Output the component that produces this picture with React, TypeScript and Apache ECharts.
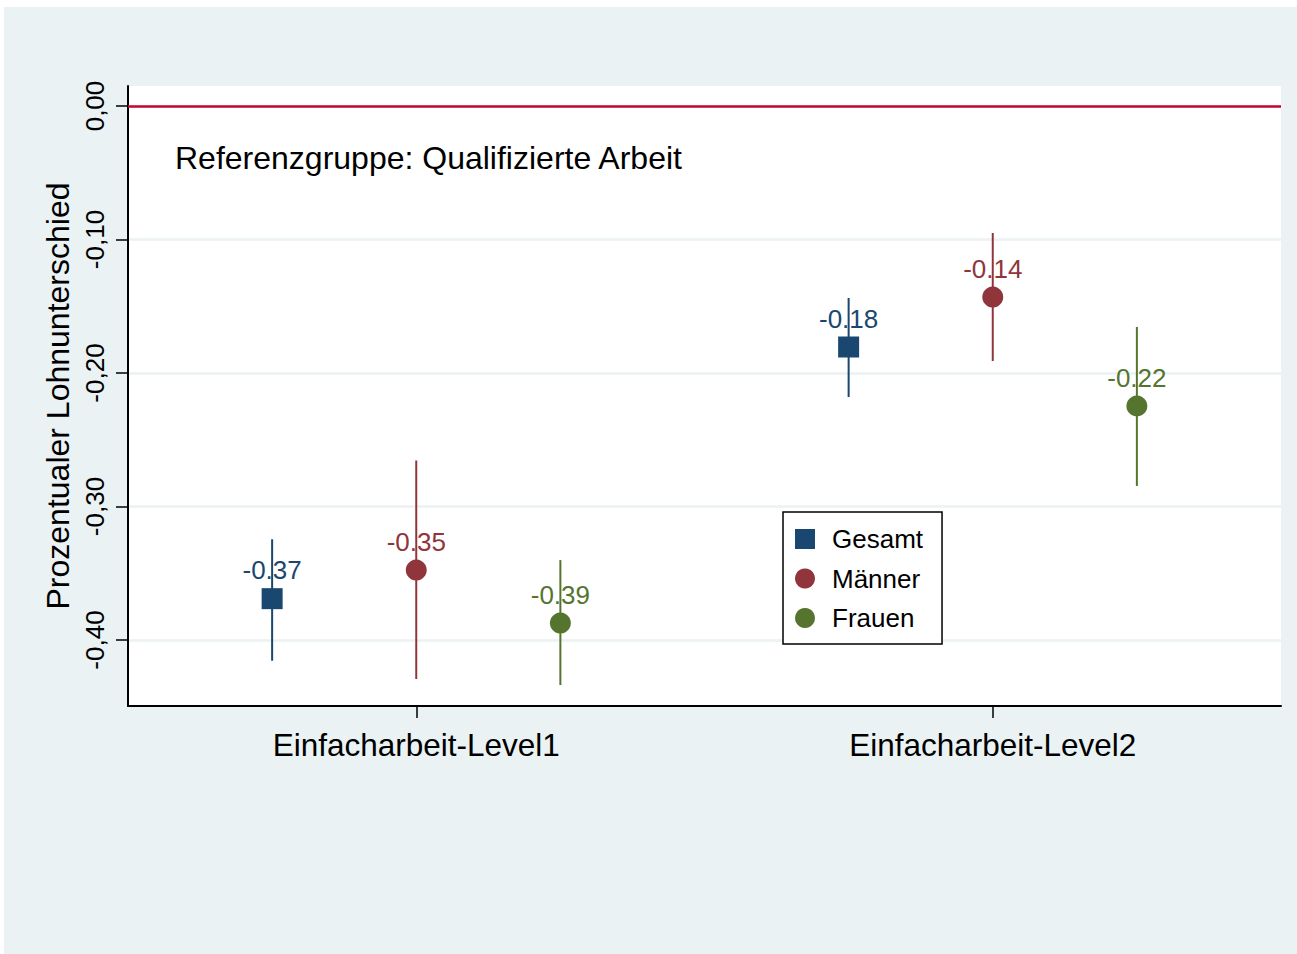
import React, { useEffect, useRef } from "react";
import * as echarts from "echarts";

const categories = ["Einfacharbeit-Level1", "Einfacharbeit-Level2"];
const seriesNames = ["Gesamt", "Männer", "Frauen"];
const gesamt = [-0.369, -0.1805];
const gesamtLo = [-0.4155, -0.218];
const gesamtHi = [-0.3245, -0.1438];
const maenner = [-0.3476, -0.1431];
const maennerLo = [-0.4292, -0.191];
const maennerHi = [-0.2655, -0.0951];
const frauen = [-0.3873, -0.2247];
const frauenLo = [-0.4337, -0.2846];
const frauenHi = [-0.3401, -0.1655];
const yTicks = [-0.4, -0.3, -0.2, -0.1, 0];

const colors = ["#1a476f", "#90353b", "#55752f"];
const symbols = ["rect", "circle", "circle"];
const offsets = [-0.25, 0, 0.25];
const FONT = "Liberation Sans, Arial, Helvetica, sans-serif";

export default function App() {
  const ref = useRef<HTMLDivElement>(null);
  useEffect(() => {
    document.body.style.margin = "0";
    const chart = echarts.init(ref.current!, null, { renderer: "svg" });
    const groups = [
      { v: gesamt, lo: gesamtLo, hi: gesamtHi },
      { v: maenner, lo: maennerLo, hi: maennerHi },
      { v: frauen, lo: frauenLo, hi: frauenHi },
    ];
    const series: any[] = [];
    groups.forEach((g, k) => {
      series.push({
        type: "custom",
        name: seriesNames[k] + "_ci",
        z: 2,
        silent: true,
        data: g.v.map((_, i) => [i + 1 + offsets[k], g.lo[i], g.hi[i]]),
        renderItem: (params: any, api: any) => {
          const p1 = api.coord([api.value(0), api.value(1)]);
          const p2 = api.coord([api.value(0), api.value(2)]);
          return {
            type: "line",
            shape: { x1: p1[0], y1: p1[1], x2: p2[0], y2: p2[1] },
            style: { stroke: colors[k], lineWidth: 2 },
          };
        },
      });
    });
    groups.forEach((g, k) => {
      series.push({
        type: "scatter",
        name: seriesNames[k],
        z: 3,
        symbol: symbols[k],
        symbolSize: 21,
        itemStyle: { color: colors[k], opacity: 1 },
        data: g.v.map((v, i) => [i + 1 + offsets[k], v]),
        label: {
          show: true,
          position: "top",
          distance: 5,
          color: colors[k],
          fontSize: 26,
          fontFamily: FONT,
          formatter: (p: any) => p.value[1].toFixed(2),
        },
        ...(k === 0
          ? {
              markLine: {
                silent: true,
                symbol: "none",
                label: { show: false },
                lineStyle: { color: "#c10534", width: 2.5, type: "solid", opacity: 1 },
                data: [{ yAxis: 0 }],
              },
            }
          : {}),
      });
    });

    chart.setOption({
      animation: false,
      backgroundColor: "transparent",
      textStyle: { fontFamily: FONT },
      graphic: [
        {
          type: "rect",
          z: -100,
          silent: true,
          shape: { x: 4, y: 7, width: 1293, height: 947 },
          style: { fill: "#eaf2f3" },
        },
        {
          type: "text",
          z: 10,
          x: 175,
          y: 158,
          style: {
            text: "Referenzgruppe: Qualifizierte Arbeit",
            fontSize: 32,
            fontFamily: FONT,
            fill: "#000",
            verticalAlign: "middle",
            textAlign: "left",
          },
        },
      ],
      grid: {
        left: 128,
        right: 16,
        top: 86,
        bottom: 248,
        show: true,
        backgroundColor: "#ffffff",
        borderWidth: 0,
      },
      legend: {
        orient: "vertical",
        left: 783,
        top: 512,
        padding: [14, 19, 13, 12],
        itemGap: 13.5,
        itemWidth: 20,
        itemHeight: 20,
        backgroundColor: "#ffffff",
        borderColor: "#000000",
        borderWidth: 1.5,
        borderRadius: 0,
        data: seriesNames.map((n, k) => ({ name: n, icon: symbols[k] })),
        textStyle: {
          fontSize: 26,
          fontFamily: FONT,
          color: "#000",
          lineHeight: 26,
          padding: [0, 0, 0, 12],
        },
      },
      xAxis: {
        type: "value",
        min: 0.5,
        max: 2.5,
        axisLine: { show: true, onZero: false, lineStyle: { color: "#000", width: 2 } },
        axisTick: { show: true, length: 12, lineStyle: { color: "#000", width: 1.5 }, customValues: [1, 2] },
        splitLine: { show: false },
        axisLabel: {
          customValues: [1, 2],
          margin: 23,
          fontSize: 31.5,
          fontFamily: FONT,
          color: "#000",
          formatter: (v: number) => categories[Math.round(v) - 1] ?? "",
        },
      },
      yAxis: {
        type: "value",
        min: -0.4494,
        max: 0.015,
        name: "Prozentualer Lohnunterschied",
        nameLocation: "middle",
        nameGap: 50,
        nameTextStyle: { fontSize: 32, fontFamily: FONT, color: "#000" },
        axisLine: { show: true, lineStyle: { color: "#000", width: 2 } },
        axisTick: { show: true, length: 12, lineStyle: { color: "#000", width: 1.5 }, customValues: yTicks },
        splitLine: { show: true, lineStyle: { color: "#eaf2f3", width: 2.5 } },
        axisLabel: {
          customValues: yTicks,
          rotate: 90,
          margin: 20,
          fontSize: 26,
          fontFamily: FONT,
          color: "#000",
          formatter: (v: number) => v.toFixed(2).replace(".", ","),
        },
      },
      series,
    });
    return () => chart.dispose();
  }, []);
  return <div ref={ref} style={{ width: 1297, height: 954 }} />;
}
